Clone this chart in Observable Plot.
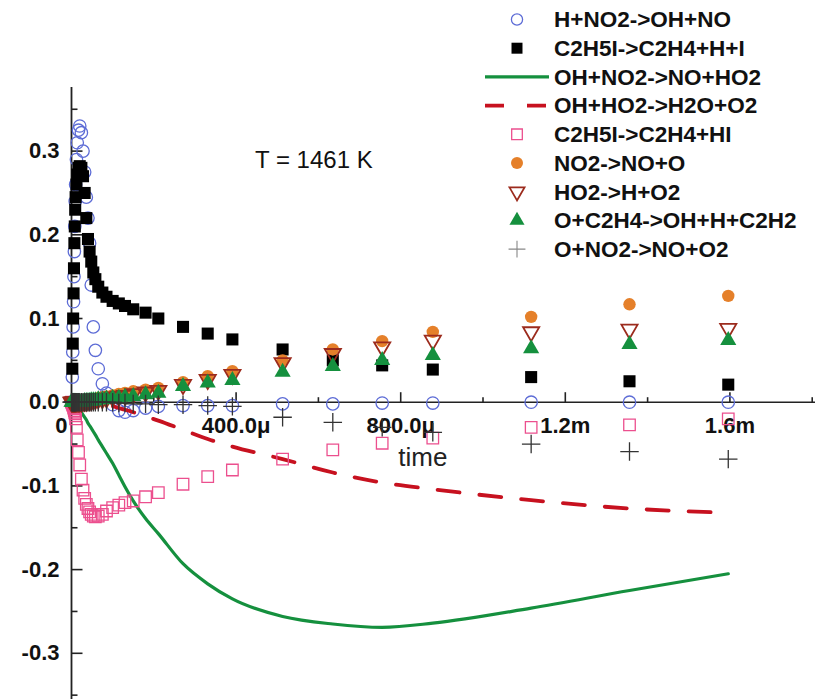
<!DOCTYPE html>
<html><head><meta charset="utf-8">
<script src="https://cdn.jsdelivr.net/npm/d3@7"></script>
<script src="https://cdn.jsdelivr.net/npm/@observablehq/plot@0.6"></script>
<style>
body{margin:0;background:#fff;}
#wrap{position:relative;width:818px;height:699px;overflow:hidden;font-family:"Liberation Sans",Arial,sans-serif;}
#wrap svg{position:absolute;left:0;top:0;}
</style></head><body><div id="wrap"></div>
<script>
// time in microseconds
const times = [0, 2, 3, 4, 5, 6, 7, 8, 9, 10, 12, 14, 17, 20, 24, 28, 32, 36, 40, 44, 48, 53, 58, 65, 75, 85, 100, 115, 130, 150, 180, 211, 271, 331, 391, 513, 635, 755, 878, 1117, 1356, 1596];
const seriesNames = ["H+NO2->OH+NO", "C2H5I->C2H4+H+I", "OH+NO2->NO+HO2", "OH+HO2->H2O+O2", "C2H5I->C2H4+HI", "NO2->NO+O", "HO2->H+O2", "O+C2H4->OH+H+C2H2", "O+NO2->NO+O2"];
const sHNO2 = [0, 0.03, 0.06, 0.09, 0.12, 0.15, 0.18, 0.21, 0.24, 0.26, 0.29, 0.31, 0.325, 0.33, 0.322, 0.30, 0.275, 0.245, 0.22, 0.19, 0.14, 0.09, 0.062, 0.04, 0.022, 0.011, -0.003, -0.010, -0.012, -0.010, -0.007, -0.005, -0.004, -0.004, -0.004, -0.002, -0.002, -0.001, -0.001, 0, 0, 0];
const sC2H5I_HI_I = [0, 0.04, 0.07, 0.10, 0.13, 0.16, 0.19, 0.21, 0.23, 0.245, 0.26, 0.272, 0.28, 0.282, 0.28, 0.27, 0.25, 0.22, 0.195, 0.18, 0.168, 0.155, 0.147, 0.138, 0.131, 0.126, 0.121, 0.118, 0.115, 0.111, 0.107, 0.100, 0.090, 0.082, 0.075, 0.063, 0.050, 0.044, 0.039, 0.030, 0.025, 0.021];
const sOHNO2 = [0, 0, -0.0005, -0.001, -0.001, -0.0015, -0.002, -0.002, -0.0025, -0.003, -0.004, -0.005, -0.007, -0.009, -0.012, -0.015, -0.018, -0.021, -0.025, -0.028, -0.031, -0.035, -0.039, -0.045, -0.053, -0.061, -0.073, -0.087, -0.101, -0.118, -0.139, -0.157, -0.193, -0.217, -0.235, -0.256, -0.265, -0.269, -0.264, -0.246, -0.225, -0.205];
const sOHHO2 = [0, 0, 0, 0, 0, 0, 0, 0, 0, 0, 0, 0, 0, -0.0005, -0.0005, -0.001, -0.001, -0.001, -0.0015, -0.0015, -0.002, -0.002, -0.002, -0.002, -0.003, -0.004, -0.005, -0.007, -0.009, -0.012, -0.017, -0.022, -0.033, -0.044, -0.053, -0.068, -0.084, -0.096, -0.104, -0.117, -0.127, -0.132];
const sC2H5I_HI = [0, -0.002, -0.003, -0.004, -0.006, -0.008, -0.010, -0.012, -0.014, -0.020, -0.030, -0.045, -0.060, -0.075, -0.092, -0.105, -0.115, -0.122, -0.127, -0.131, -0.134, -0.136, -0.137, -0.136, -0.134, -0.130, -0.126, -0.123, -0.120, -0.118, -0.113, -0.108, -0.098, -0.089, -0.081, -0.068, -0.057, -0.049, -0.043, -0.030, -0.027, -0.020];
const sNO2 = [0, 0, 0, 0, 0, 0, 0, 0, 0, 0, 0, 0, 0, 0, 0.001, 0.001, 0.002, 0.002, 0.002, 0.003, 0.003, 0.004, 0.004, 0.005, 0.006, 0.007, 0.008, 0.010, 0.011, 0.013, 0.015, 0.017, 0.024, 0.031, 0.037, 0.050, 0.063, 0.073, 0.084, 0.102, 0.117, 0.127];
const sHO2 = [0, 0, 0, 0, 0, 0, 0, 0, 0, 0, 0, 0, 0, 0, 0, 0.001, 0.001, 0.001, 0.002, 0.002, 0.002, 0.003, 0.003, 0.004, 0.004, 0.005, 0.006, 0.007, 0.008, 0.010, 0.012, 0.014, 0.021, 0.027, 0.033, 0.047, 0.058, 0.066, 0.074, 0.084, 0.087, 0.088];
const sOC2H4 = [0, 0, 0, 0, 0, 0, 0, 0, 0, 0, 0, 0, 0, 0, 0, 0, 0.001, 0.001, 0.001, 0.001, 0.002, 0.002, 0.002, 0.003, 0.003, 0.004, 0.005, 0.005, 0.006, 0.007, 0.009, 0.011, 0.019, 0.023, 0.026, 0.036, 0.043, 0.050, 0.056, 0.064, 0.069, 0.074];
const sONO2 = [0, 0, 0, 0, 0, 0, 0, 0, 0, 0, 0, 0, 0, 0, 0, 0, 0, 0, 0, 0, 0, 0, 0, 0, 0, 0, 0, -0.001, -0.001, -0.002, -0.002, -0.003, -0.003, -0.004, -0.005, -0.018, -0.024, -0.030, -0.036, -0.050, -0.059, -0.068];

const xTicks = [400, 800, 1200, 1600];
const xTickLabels = ["400.0\u03bc", "800.0\u03bc", "1.2m", "1.6m"];
const xMinorTicks = [200, 600, 1000, 1400, 1800];
const yTicks = [0.3, 0.2, 0.1, 0.0, -0.1, -0.2, -0.3];
const yTickLabels = ["0.3", "0.2", "0.1", "0.0", "-0.1", "-0.2", "-0.3"];
const yMinorTicks = [0.35, 0.25, 0.15, 0.05, -0.05, -0.15, -0.25, -0.35];
const xOriginLabel = ["0"];
const xAxisTitle = ["time"];
const annotation = ["T = 1461 K"];

const W = 818, H = 699;
const font = "'Liberation Sans', Arial, sans-serif";
const rows = (vals) => times.map((t, i) => ({t, v: vals[i]}));
const tickUp = {draw(ctx, size) { const l = Math.sqrt(size / Math.PI); ctx.moveTo(0, 0); ctx.lineTo(0, -l); }};
const tickRight = {draw(ctx, size) { const l = Math.sqrt(size / Math.PI); ctx.moveTo(0, 0); ctx.lineTo(l, 0); }};

const C = {
  blue: "#5d6cd6", black: "#000", green: "#15903e", red: "#c7111f",
  pink: "#ec4f8e", orange: "#e5802a", brown: "#9c2b1d", gtri: "#15903e", plus: "#333"
};

const chart = Plot.plot({
  width: W, height: H,
  marginLeft: 71, marginRight: 3, marginTop: 87, marginBottom: 0,
  x: {domain: [0, 1808], axis: null},
  y: {domain: [-0.3552, 0.376], axis: null},
  style: {fontFamily: font, background: "transparent", overflow: "visible"},
  marks: [
    Plot.ruleY([0], {stroke: "#222", strokeWidth: 1.4}),
    Plot.ruleX([0], {stroke: "#222", strokeWidth: 1.8}),
    Plot.dot(xTicks, {x: d => d, y: 0, symbol: tickUp, r: 10, fill: "none", stroke: "#222", strokeWidth: 1.6}),
    Plot.dot(xMinorTicks, {x: d => d, y: 0, symbol: tickUp, r: 5, fill: "none", stroke: "#222", strokeWidth: 1.6}),
    Plot.dot(yTicks, {x: 0, y: d => d, symbol: tickRight, r: 11, fill: "none", stroke: "#222", strokeWidth: 1.6}),
    Plot.dot(yMinorTicks, {x: 0, y: d => d, symbol: tickRight, r: 6, fill: "none", stroke: "#222", strokeWidth: 1.6}),
    Plot.text(xTickLabels, {x: (d, i) => xTicks[i], y: 0, text: d => d, dy: 24, fontSize: 22, fontWeight: "bold", fill: "#111"}),
    Plot.text(xOriginLabel, {x: 0, y: 0, text: d => d, dy: 24, dx: -4, textAnchor: "end", fontSize: 22, fontWeight: "bold", fill: "#111"}),
    Plot.text(yTickLabels, {x: 0, y: (d, i) => yTicks[i], text: d => d, dx: -12, textAnchor: "end", fontSize: 22, fontWeight: "bold", fill: "#111"}),
    Plot.text(xAxisTitle, {x: 794, y: -0.0664, text: d => d, textAnchor: "start", fontSize: 26, fill: "#222"}),
    Plot.text(annotation, {x: 446, y: 0.2896, text: d => d, textAnchor: "start", fontSize: 24, fill: "#111"}),
    Plot.dot(rows(sHNO2), {x: "t", y: "v", symbol: "circle", r: 6.2, fill: "none", stroke: C.blue, strokeWidth: 1.3}),
    Plot.dot(rows(sC2H5I_HI_I), {x: "t", y: "v", symbol: "square", r: 6.8, fill: C.black, stroke: "none"}),
    Plot.line(rows(sOHNO2), {x: "t", y: "v", stroke: C.green, strokeWidth: 3.2, curve: "monotone-x"}),
    Plot.line(rows(sOHHO2), {x: "t", y: "v", stroke: C.red, strokeWidth: 3.8, strokeDasharray: "22,20", curve: "monotone-x"}),
    Plot.dot(rows(sC2H5I_HI), {x: "t", y: "v", symbol: "square", r: 6.5, fill: "none", stroke: C.pink, strokeWidth: 1.3}),
    Plot.dot(rows(sNO2), {x: "t", y: "v", symbol: "circle", r: 6.2, fill: C.orange, stroke: "none"}),
    Plot.dot(rows(sHO2), {x: "t", y: "v", symbol: "triangle", rotate: 180, r: 6, fill: "none", stroke: C.brown, strokeWidth: 1.8}),
    Plot.dot(rows(sOC2H4), {x: "t", y: "v", symbol: "triangle", r: 6, fill: C.gtri, stroke: "none"}),
    Plot.dot(rows(sONO2), {x: "t", y: "v", symbol: "plus", r: 6, fill: "none", stroke: C.plus, strokeWidth: 1.3})
  ]
});
document.getElementById("wrap").appendChild(chart);

// legend
const leg = d3.select("#wrap").append("svg").attr("width", W).attr("height", H);
const legendStyle = [
  {kind: "dot", sym: d3.symbolCircle, r: 5.6, fill: "none", stroke: C.blue, sw: 1.3},
  {kind: "dot", sym: d3.symbolSquare, r: 6.2, fill: C.black, stroke: "none"},
  {kind: "line", stroke: C.green, sw: 3.4},
  {kind: "dash", stroke: C.red, sw: 3.8},
  {kind: "dot", sym: d3.symbolSquare, r: 6, fill: "none", stroke: C.pink, sw: 1.3},
  {kind: "dot", sym: d3.symbolCircle, r: 6, fill: C.orange, stroke: "none"},
  {kind: "dot", sym: d3.symbolTriangle, r: 5.6, fill: "none", stroke: C.brown, sw: 1.8, rot: 180},
  {kind: "dot", sym: d3.symbolTriangle, r: 5.6, fill: C.gtri, stroke: "none"},
  {kind: "dot", sym: d3.symbolPlus, r: 5.5, fill: "none", stroke: "#888", sw: 1.1}
];
seriesNames.forEach((name, i) => {
  const cy = 19.5 + i * 28.7;
  const st = legendStyle[i];
  if (st.kind === "dot") {
    leg.append("path")
      .attr("d", d3.symbol(st.sym, Math.PI * st.r * st.r)())
      .attr("transform", `translate(517,${cy})` + (st.rot ? ` rotate(${st.rot})` : ""))
      .attr("fill", st.fill).attr("stroke", st.stroke).attr("stroke-width", st.sw || 1);
  } else {
    leg.append("line").attr("x1", 485).attr("x2", 549).attr("y1", cy).attr("y2", cy)
      .attr("stroke", st.stroke).attr("stroke-width", st.sw)
      .attr("stroke-dasharray", st.kind === "dash" ? "19,23" : null);
  }
  leg.append("text").attr("x", 554).attr("y", cy).attr("dy", "0.35em")
    .attr("font-family", font).attr("font-size", 22.5).attr("font-weight", "bold")
    .attr("fill", "#111").text(name);
});
</script></body></html>
